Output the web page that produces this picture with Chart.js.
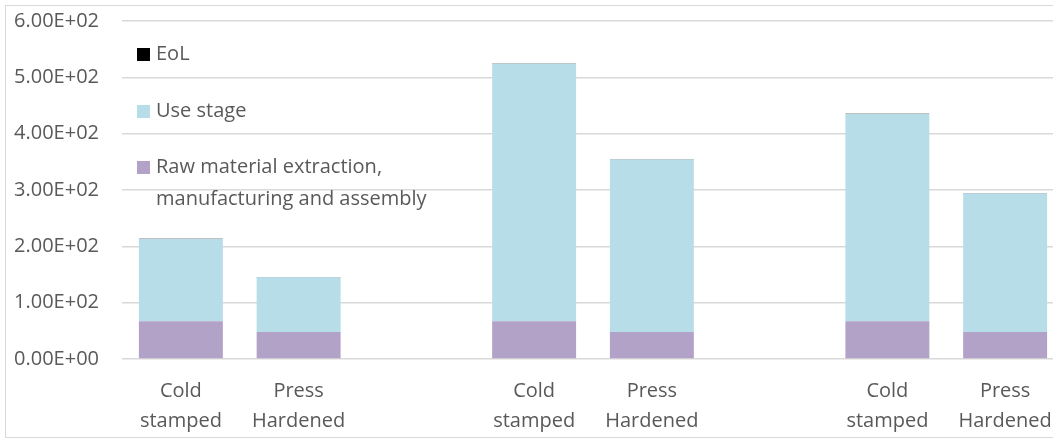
<!DOCTYPE html>
<html>
<head>
<meta charset="utf-8">
<script src="https://cdn.jsdelivr.net/npm/chart.js@4"></script>
<style>
  html, body { margin: 0; padding: 0; background: #fff; overflow: hidden; }
  #frame { position: absolute; left: 5px; top: 5px; width: 1100px; height: 431px; border: 1px solid #d9d9d9; }
  #wrap { position: absolute; left: 0; top: -14px; width: 1075px; height: 452px; }
</style>
</head>
<body>
<div id="frame"></div>
<div id="wrap"><canvas id="c"></canvas></div>
<script>
// Categories: three pairs of processes, separated by empty slots
const categories = [
  ['Cold', 'stamped'], ['Press', 'Hardened'], '',
  ['Cold', 'stamped'], ['Press', 'Hardened'], '',
  ['Cold', 'stamped'], ['Press', 'Hardened']
];

// Life-cycle stage contributions (stacked)
const rawMaterial = [67, 48, null, 67, 48, null, 67, 48];
const useStage    = [146, 97, null, 457, 306, null, 368, 246];
const endOfLife   = [0.4, 0.4, null, 0.4, 0.4, null, 0.4, 0.4];

const seriesNames = ['Raw material extraction, manufacturing and assembly', 'Use stage', 'EoL'];
const yTicks = [0, 100, 200, 300, 400, 500, 600];

const FONT = '"Open Sans", Lato, sans-serif';
const TEXT = '#595959';
const colors = ['#b3a2c7', '#b7dde8', '#000000'];

function sci(v) {
  if (v === 0) return '0.00E+00';
  const e = Math.floor(Math.log10(Math.abs(v)));
  const m = v / Math.pow(10, e);
  return m.toFixed(2) + 'E' + (e < 0 ? '-' : '+') + String(Math.abs(e)).padStart(2, '0');
}

// Legend drawn inside the plot, top-left, in reverse stacking order
const insideLegend = {
  id: 'insideLegend',
  afterDraw(chart) {
    const ctx = chart.ctx;
    ctx.save();
    ctx.font = '20px ' + FONT;
    ctx.textBaseline = 'middle';
    const x = 137, maxW = 300;
    const top = chart.chartArea.top;
    const rows = [top + 33, top + 90, top + 146];
    const order = [2, 1, 0];
    order.forEach((di, i) => {
      const ds = chart.data.datasets[di];
      const y = rows[i];
      ctx.fillStyle = ds.backgroundColor;
      ctx.fillRect(x, y - 6, 13, 13);
      // wrap label text
      const words = ds.label.split(' ');
      const lines = [];
      let cur = '';
      words.forEach(w => {
        const t = cur ? cur + ' ' + w : w;
        if (ctx.measureText(t).width > maxW && cur) { lines.push(cur); cur = w; } else cur = t;
      });
      lines.push(cur);
      ctx.fillStyle = TEXT;
      lines.forEach((ln, k) => ctx.fillText(ln, x + 19, y + k * 32));
    });
    ctx.restore();
  }
};

new Chart(document.getElementById('c'), {
  type: 'bar',
  data: {
    labels: categories,
    datasets: [
      { label: seriesNames[0], data: rawMaterial, backgroundColor: colors[0] },
      { label: seriesNames[1], data: useStage, backgroundColor: colors[1] },
      { label: seriesNames[2], data: endOfLife, backgroundColor: colors[2] }
    ]
  },
  options: {
    responsive: true,
    maintainAspectRatio: false,
    animation: false,
    layout: { padding: { top: 6, right: 11, left: 0, bottom: 0 } },
    datasets: { bar: { categoryPercentage: 1, barPercentage: 0.713 } },
    plugins: { legend: { display: false }, tooltip: { enabled: false } },
    scales: {
      x: {
        stacked: true,
        grid: { display: false },
        border: { display: false },
        ticks: {
          color: TEXT, font: { family: FONT, size: 20, lineHeight: 1.5 },
          padding: 9, maxRotation: 0, autoSkip: false
        },
        afterFit(scale) { scale.height = 79; }
      },
      y: {
        stacked: true,
        min: 0, max: 600,
        afterBuildTicks(scale) { scale.ticks = yTicks.map(v => ({ value: v })); },
        grid: { color: '#d9d9d9', lineWidth: 1.5, drawTicks: false },
        border: { display: false },
        ticks: {
          color: TEXT, font: { family: FONT, size: 20 },
          padding: 23,
          callback: v => sci(v)
        },
        afterFit(scale) { scale.width = 122; }
      }
    }
  },
  plugins: [insideLegend]
});
</script>
</body>
</html>
